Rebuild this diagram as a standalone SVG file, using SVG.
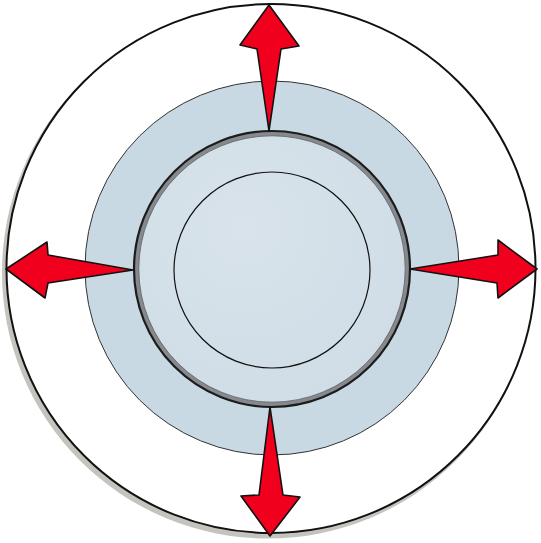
<svg xmlns="http://www.w3.org/2000/svg" width="541" height="543" viewBox="0 0 541 543">
  <style>
    .arrow { fill: #f0001c; stroke: #111; stroke-width: 1.6; stroke-linejoin: round; }
  </style>
  <defs>
    <radialGradient id="innerFill" cx="0.4" cy="0.35" r="0.8">
      <stop offset="0" stop-color="#d8e3eb"/>
      <stop offset="1" stop-color="#cfdce5"/>
    </radialGradient>
  </defs>
  <rect width="541" height="543" fill="#ffffff"/>
  <g id="outer">
    <circle cx="268" cy="272.5" r="266" fill="#c4c4be"/>
    <circle cx="271" cy="268.5" r="264.5" fill="#ffffff" stroke="#111" stroke-width="2"/>
  </g>
  <g id="annulus">
    <circle cx="272" cy="268" r="187" fill="#c9d9e3" stroke="#333" stroke-width="1"/>
  </g>
  <g id="ring">
    <circle cx="272" cy="269" r="137.5" fill="url(#innerFill)"/>
    <circle cx="272" cy="269" r="135.5" fill="none" stroke="#868a8e" stroke-width="4.5"/>
    <circle cx="272" cy="269" r="138" fill="none" stroke="#1c1c1c" stroke-width="2.2"/>
    <circle cx="272" cy="269" r="133.2" fill="none" stroke="#5a5e62" stroke-width="0.8"/>
  </g>
  <g id="inner">
    <circle cx="272" cy="270" r="98" fill="none" stroke="#111" stroke-width="1.2"/>
  </g>
  <g id="connectors">
    <polygon class="arrow" points="269,5 299,46 281,49 269,131 257,49 240,45"/>
    <polygon class="arrow" points="6,269 47,242 48,255 133,270 48,283 45,298"/>
    <polygon class="arrow" points="537,269 498,240 498,255 410,269 497,283 498,298"/>
    <polygon class="arrow" points="270,536 241,496 259,495 270,407 283,495 300,497"/>
  </g>
</svg>
